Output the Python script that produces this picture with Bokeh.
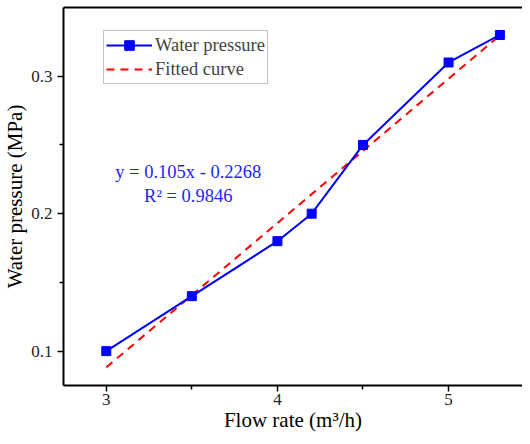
from bokeh.plotting import figure
from bokeh.models import FixedTicker, LinearAxis, Label, Legend, LegendItem, Range1d
from bokeh.embed import file_html
from bokeh.resources import INLINE

flow = [3.0, 3.5, 4.0, 4.2, 4.5, 5.0, 5.3]
pressure = [0.10, 0.14, 0.18, 0.20, 0.25, 0.31, 0.33]
fit_x = [3.0, 5.3]
fit_y = [0.0882, 0.3297]
x_ticks = [3, 4, 5]
x_minor = [3.5, 4.5]
y_ticks = [0.1, 0.2, 0.3]
y_minor = [0.15, 0.25]
eq_text = "y = 0.105x - 0.2268"
r2_text = "R\u00b2 = 0.9846"

FONT = "Liberation Serif"

p = figure(width=522, height=436, output_backend="svg", toolbar_location=None,
           x_range=Range1d(2.75, 5.432), y_range=Range1d(0.075, 0.35),
           min_border_left=62, min_border_right=0, min_border_top=7, min_border_bottom=51)
p.outline_line_color = None
p.grid.visible = False
p.background_fill_color = "white"

for ax in (p.xaxis[0], p.yaxis[0]):
    ax.axis_line_width = 2
    ax.axis_line_color = "black"
    ax.major_tick_line_width = 1.5
    ax.minor_tick_line_width = 1.5
    ax.major_tick_out = 6
    ax.major_tick_in = 0
    ax.minor_tick_out = 4
    ax.minor_tick_in = 0
    ax.major_label_text_font = FONT
    ax.major_label_text_font_size = "17px"
    ax.major_label_text_color = "#222222"
    ax.axis_label_text_font = FONT
    ax.axis_label_text_font_size = "21px"
    ax.axis_label_text_font_style = "normal"
    ax.axis_label_text_color = "black"

p.xaxis[0].ticker = FixedTicker(ticks=x_ticks, minor_ticks=x_minor)
p.yaxis[0].ticker = FixedTicker(ticks=y_ticks, minor_ticks=y_minor)
p.xaxis[0].axis_label = "Flow rate (m\u00b3/h)"
p.yaxis[0].axis_label = "Water pressure (MPa)"
p.xaxis[0].major_label_standoff = 2
p.xaxis[0].axis_label_standoff = 0
p.yaxis[0].major_label_standoff = 5
p.yaxis[0].axis_label_standoff = 1

top = LinearAxis(ticker=FixedTicker(ticks=[]), major_label_text_font_size="0px",
                 axis_line_width=2, axis_line_color="black",
                 major_tick_line_color=None, minor_tick_line_color=None)
p.add_layout(top, "above")

fit = p.line(fit_x, fit_y, line_color="#ff0000", line_width=2, line_dash="8 6")
ln = p.line(flow, pressure, line_color="#0000ff", line_width=2)
mk = p.scatter(flow, pressure, marker="square", size=9, fill_color="#0000ff",
               line_color="#0000ff")

legend = Legend(items=[LegendItem(label="Water pressure", renderers=[ln, mk]),
                       LegendItem(label="Fitted curve", renderers=[fit])],
                location=(40, 301), label_text_font=FONT, label_text_font_size="18.5px",
                glyph_width=46, glyph_height=24, label_height=24, spacing=0, padding=2,
                margin=0, label_standoff=3, border_line_color="#888888",
                border_line_width=1, background_fill_alpha=1)
p.add_layout(legend, "center")

p.add_layout(Label(x=3.479, y=0.2300, text=eq_text, text_align="center",
                   text_baseline="middle", text_font=FONT, text_font_size="18.5px",
                   text_color="#1f1fff"))
p.add_layout(Label(x=3.479, y=0.2132, text=r2_text, text_align="center",
                   text_baseline="middle", text_font=FONT, text_font_size="18.5px",
                   text_color="#1f1fff"))

open("out.html", "w").write(file_html(p, INLINE))
